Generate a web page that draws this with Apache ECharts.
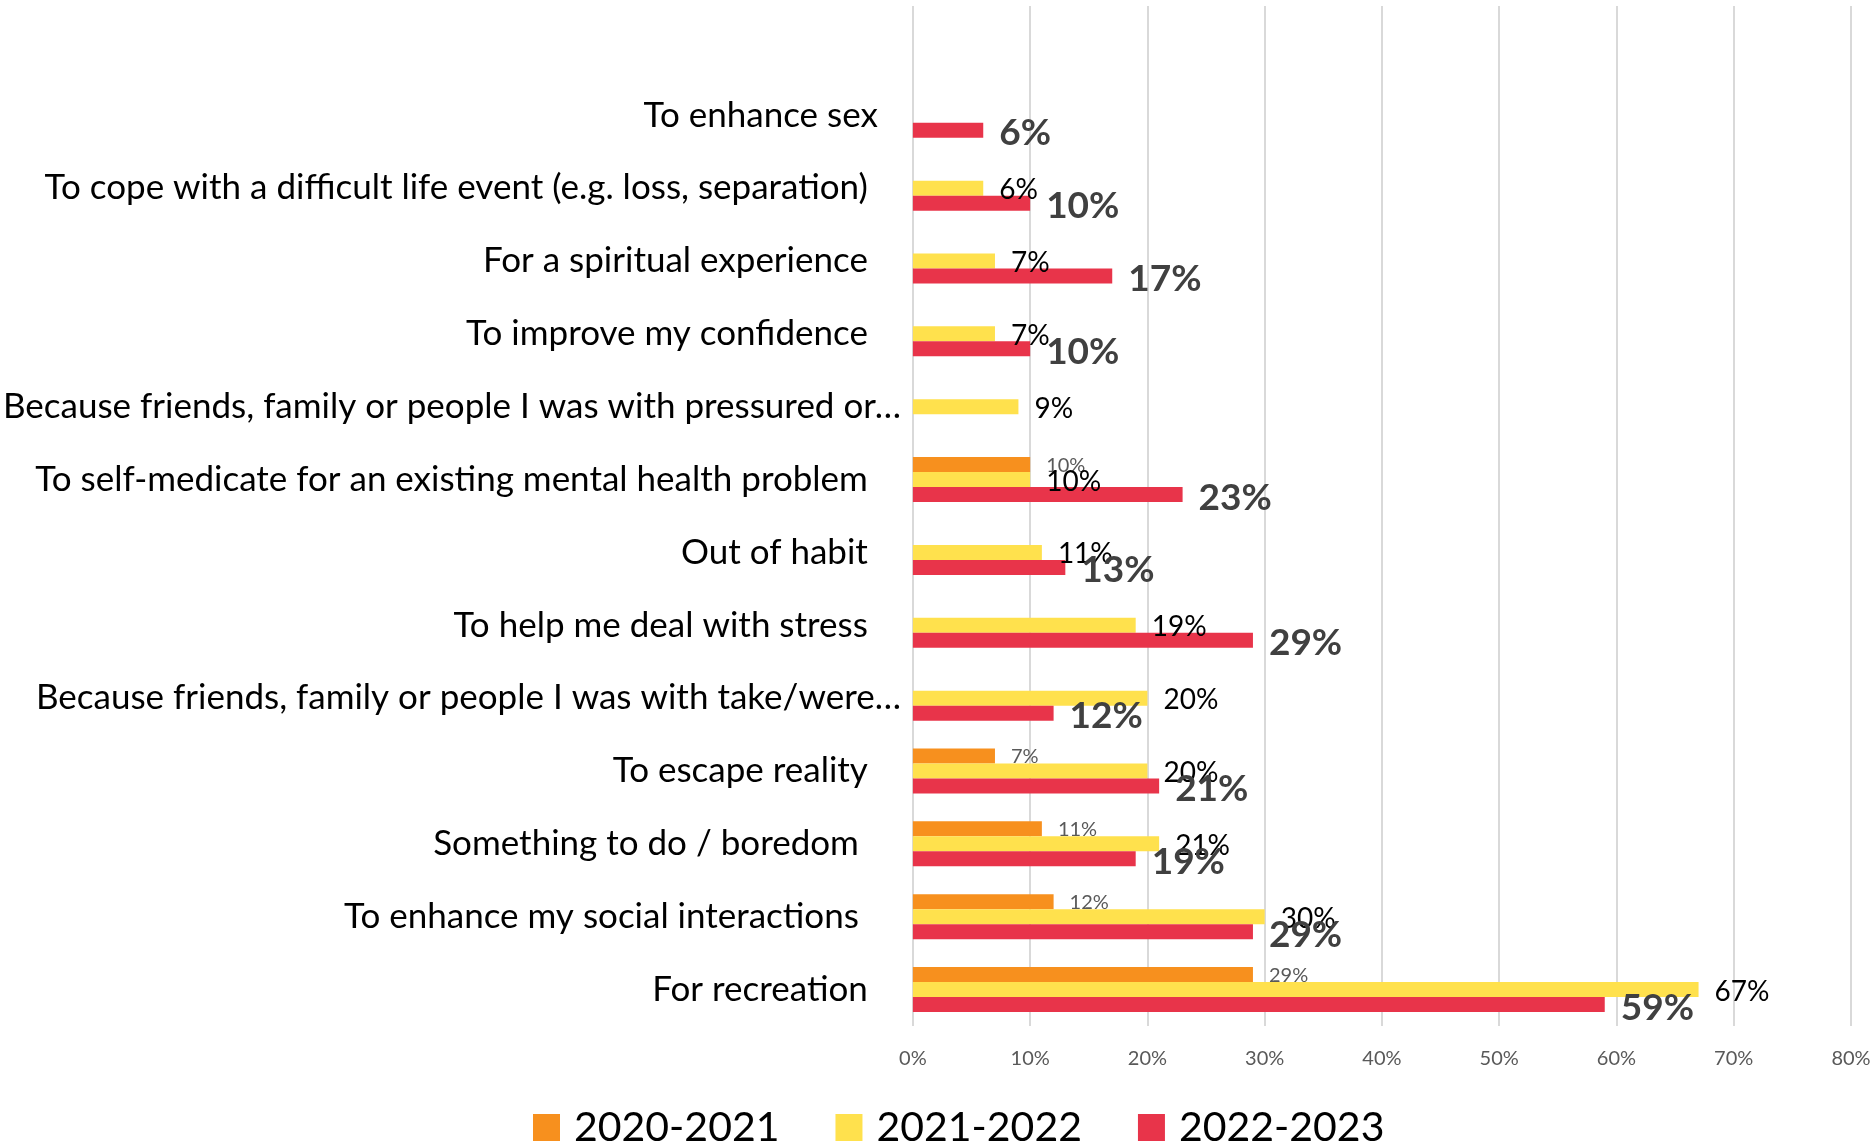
<!DOCTYPE html>
<html>
<head>
<meta charset="utf-8">
<title>Reasons for use</title>
<script src="https://cdn.jsdelivr.net/npm/echarts@6/dist/echarts.min.js"></script>
<style>
  html, body { margin: 0; padding: 0; background: #ffffff; }
  #chart { width: 1874px; height: 1144px; }
</style>
</head>
<body>
<div id="chart"></div>
<script>
// Reasons, listed top to bottom (the first row is left blank on purpose)
const categories = [
  '',
  'To enhance sex',
  'To cope with a difficult life event (e.g. loss, separation)',
  'For a spiritual experience',
  'To improve my confidence',
  'Because friends, family or people I was with pressured or…',
  'To self-medicate for an existing mental health problem',
  'Out of habit',
  'To help me deal with stress',
  'Because friends, family or people I was with take/were…',
  'To escape reality',
  'Something to do / boredom',
  'To enhance my social interactions',
  'For recreation'
];

const seriesNames = ['2020-2021', '2021-2022', '2022-2023'];

// Share of respondents (%) per reason; null = not asked that year
const values2020_2021 = [null, null, null, null, null, null, 10, null, null, null, 7, 11, 12, 29];
const values2021_2022 = [null, null, 6, 7, 7, 9, 10, 11, 19, 20, 20, 21, 30, 67];
const values2022_2023 = [null, 6, 10, 17, 10, null, 23, 13, 29, 12, 21, 19, 29, 59];

const xTicks = [0, 10, 20, 30, 40, 50, 60, 70, 80];

// Extra right inset for some category labels
const labelInset = {
  'To enhance sex': 'b',
  'Because friends, family or people I was with pressured or…': 'n',
  'Because friends, family or people I was with take/were…': 'n',
  'Something to do / boredom': 'd',
  'To enhance my social interactions': 'd'
};

const FONT = 'Lato, "Open Sans", sans-serif';
const CAT_SIZE = 35;
const colors = ['#F7901E', '#FFE14D', '#E8344A'];

const chart = echarts.init(document.getElementById('chart'), null, { renderer: 'canvas' });

function pct(p) {
  return p.value == null ? '' : p.value + '%';
}

const labelStyles = [
  { fontSize: 20, color: '#595959', fontWeight: 'normal', offset: [0, 1] },
  { fontSize: 28, color: '#000000', fontWeight: 'normal', offset: [0, 2] },
  { fontSize: 37, color: '#404040', fontWeight: 'bold', offset: [0, 3] }
];

const seriesValues = [values2020_2021, values2021_2022, values2022_2023];

function catStyle(padRight) {
  return { fontFamily: FONT, fontSize: CAT_SIZE, color: '#000000', padding: [0, padRight, 0, 0] };
}

chart.setOption({
  backgroundColor: '#ffffff',
  animation: false,
  textStyle: { fontFamily: FONT },
  grid: { left: 912, right: 23, top: 6, bottom: 118, containLabel: false },
  legend: {
    data: seriesNames,
    left: 528,
    top: 1102,
    icon: 'rect',
    itemWidth: 27,
    itemHeight: 27,
    itemGap: 56,
    textStyle: { fontFamily: FONT, fontSize: 41, color: '#000000', padding: [0, 0, 0, 9] }
  },
  xAxis: {
    type: 'value',
    min: xTicks[0],
    max: xTicks[xTicks.length - 1],
    interval: 10,
    axisLine: { show: false },
    axisTick: { show: false },
    splitLine: { show: true, lineStyle: { color: '#d9d9d9', width: 2 } },
    axisLabel: {
      margin: 23,
      fontFamily: FONT,
      fontSize: 20,
      color: '#595959',
      formatter: v => v + '%'
    }
  },
  yAxis: {
    type: 'category',
    data: categories,
    inverse: true,
    axisLine: { show: false },
    axisTick: { show: false },
    splitLine: { show: false },
    axisLabel: {
      margin: 12,
      interval: 0,
      fontFamily: FONT,
      fontSize: CAT_SIZE,
      color: '#000000',
      formatter: v => {
        if (!v) return '';
        const k = labelInset[v] || 'm';
        return '{' + k + '|' + v + '}';
      },
      rich: {
        n: catStyle(0),
        b: catStyle(23),
        m: catStyle(33),
        d: catStyle(42)
      }
    }
  },
  series: seriesNames.map((name, i) => ({
    name: name,
    type: 'bar',
    data: seriesValues[i],
    barWidth: 15,
    barGap: '0%',
    itemStyle: { color: colors[i] },
    label: {
      show: true,
      position: 'right',
      distance: 16,
      offset: labelStyles[i].offset,
      fontFamily: FONT,
      fontSize: labelStyles[i].fontSize,
      fontWeight: labelStyles[i].fontWeight,
      color: labelStyles[i].color,
      formatter: pct
    }
  }))
});
</script>
</body>
</html>
